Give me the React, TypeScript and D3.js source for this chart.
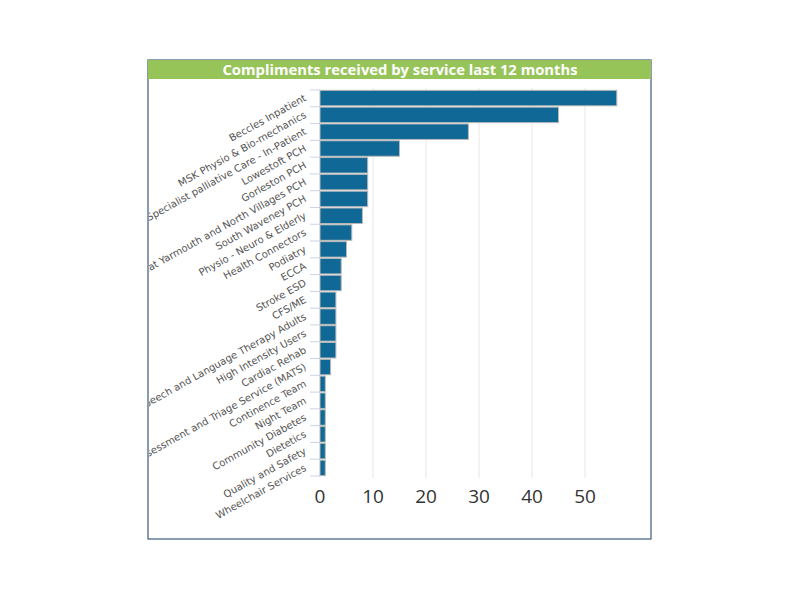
import React from "react";
import * as d3 from "d3";

const categories = [
  "Beccles Inpatient",
  "MSK Physio & Bio-mechanics",
  "Specialist palliative Care - In-Patient",
  "Lowestoft PCH",
  "Gorleston PCH",
  "Great Yarmouth and North Villages PCH",
  "South Waveney PCH",
  "Physio - Neuro & Elderly",
  "Health Connectors",
  "Podiatry",
  "ECCA",
  "Stroke ESD",
  "CFS/ME",
  "Speech and Language Therapy Adults",
  "High Intensity Users",
  "Cardiac Rehab",
  "Assessment and Triage Service (MATS)",
  "Continence Team",
  "Night Team",
  "Community Diabetes",
  "Dietetics",
  "Quality and Safety",
  "Wheelchair Services",
];
const values = [56, 45, 28, 15, 9, 9, 9, 8, 6, 5, 4, 4, 3, 3, 3, 3, 2, 1, 1, 1, 1, 1, 1];
const xTicks = [0, 10, 20, 30, 40, 50];
const title = "Compliments received by service last 12 months";

export default function App() {
  const W = 800, H = 600;
  const frameX = 148, frameY = 60, frameW = 503, frameH = 479;
  const x = d3.scaleLinear().domain([0, 10]).range([320, 373]);
  const y = d3.scaleBand<string>().domain(categories).range([90, 476]).paddingInner(0.08).paddingOuter(0.02);
  const bandStep = (476 - 90) / categories.length;
  return (
    <svg width={W} height={H} style={{ position: "absolute", left: 0, top: 0 }} fontFamily="'Open Sans', sans-serif">
      <defs>
        <clipPath id="frameClip">
          <rect x={frameX + 1} y={frameY} width={frameW - 2} height={frameH} />
        </clipPath>
      </defs>
      <rect x={0} y={0} width={W} height={H} fill="#fff" />
      <rect x={frameX} y={frameY} width={frameW} height={frameH} fill="#fff" stroke="#3d5a7e" strokeWidth={1.2} />
      <rect x={frameX} y={frameY} width={frameW} height={19} fill="#97c459" />
      <text x={400} y={75} textAnchor="middle" fill="#fff" fontWeight="bold" fontSize={14.8}>{title}</text>
      {xTicks.slice(1).map((t) => (
        <line key={t} x1={x(t)} x2={x(t)} y1={88} y2={478} stroke="#e6e6e6" strokeWidth={1} />
      ))}
      {categories.map((c, i) => (
        <line key={"t" + c} x1={310} x2={320} y1={90 + i * bandStep} y2={90 + i * bandStep} stroke="#c9d3e6" strokeWidth={1} />
      ))}
      <line x1={310} x2={320} y1={476} y2={476} stroke="#c9d3e6" strokeWidth={1} />
      {categories.map((c, i) => (
        <rect key={c} x={x(0)} y={y(c)} width={x(values[i]) - x(0)} height={y.bandwidth()} fill="#0f6896" stroke="#b8b8b8" strokeWidth={1} />
      ))}
      <g clipPath="url(#frameClip)">
        {categories.map((c) => {
          const cy = (y(c) as number) + y.bandwidth() / 2 + 2;
          return (
            <text key={"l" + c} transform={`translate(307,${cy}) rotate(-29)`} textAnchor="end" fontSize={10} fontFamily="'DejaVu Sans', sans-serif" fill="#555">{c}</text>
          );
        })}
      </g>
      {xTicks.map((t) => (
        <text key={"x" + t} x={x(t)} y={503} textAnchor="middle" fontSize={19} fill="#333">{t}</text>
      ))}
    </svg>
  );
}
